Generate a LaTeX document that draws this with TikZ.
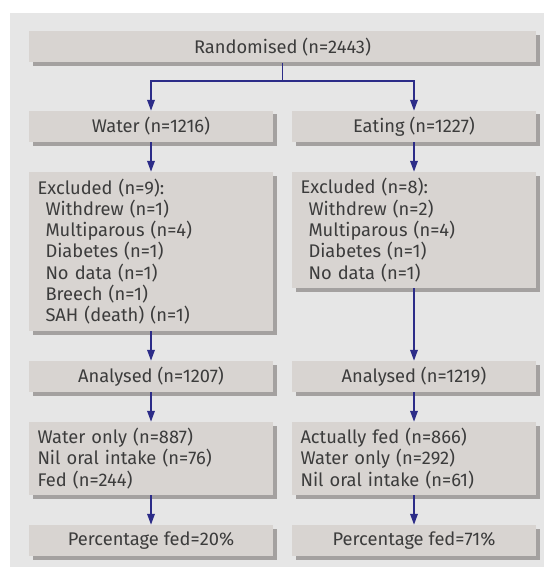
\documentclass[tikz,border=0pt]{standalone}
\usepackage{fontspec}
\setmainfont{Fira Sans}
\usetikzlibrary{shadows,arrows.meta}
\definecolor{bggray}{HTML}{E6E6E6}
\definecolor{boxgray}{HTML}{D8D4D1}
\definecolor{shgray}{HTML}{A4A1A0}
\definecolor{arrblue}{HTML}{2C2C88}
\definecolor{txtgray}{HTML}{3C3C3C}
\tikzset{
  box/.style={rectangle, fill=boxgray, inner sep=0pt, minimum height=31pt,
    text=txtgray, font=\fontsize{18.3}{21.3}\selectfont,
    general shadow={fill=shgray, shadow xshift=3.5pt, shadow yshift=-3.5pt}},
  lbox/.style={box, align=left, text width=227pt, inner xsep=0pt},
  arr/.style={draw=arrblue, line width=1.8pt, -{Triangle[length=11pt,width=7.5pt]}},
  ln/.style={draw=arrblue, line width=1.8pt}
}
\newcommand{\ind}{\hspace*{8pt}}
\begin{document}
\begin{tikzpicture}[x=1pt,y=-1pt]
\useasboundingbox (0,0) rectangle (544,567);
\fill[bggray] (10,13) rectangle (544,567);
\node[box, minimum width=507pt] (rand) at (282.5,47) {Randomised (n=2443)};
\node[box, minimum width=244pt] (water) at (151,126.5) {Water (n=1216)};
\node[box, minimum width=244pt] (eating) at (414,126.5) {Eating (n=1227)};
\node[lbox, minimum width=244pt, minimum height=159pt] (excl1) at (151,251.5) {Excluded (n=9):\\
\ind Withdrew (n=1)\\
\ind Multiparous (n=4)\\
\ind Diabetes (n=1)\\
\ind No data (n=1)\\
\ind Breech (n=1)\\
\ind SAH (death) (n=1)};
\node[lbox, minimum width=244pt, minimum height=116pt] (excl2) at (414,230) {Excluded (n=8):\\
\ind Withdrew (n=2)\\
\ind Multiparous (n=4)\\
\ind Diabetes (n=1)\\
\ind No data (n=1)};
\node[box, minimum width=244pt] (an1) at (151,376.5) {Analysed (n=1207)};
\node[box, minimum width=244pt] (an2) at (414,376.5) {Analysed (n=1219)};
\node[lbox, minimum width=244pt, minimum height=73pt] (res1) at (151,458.5) {Water only (n=887)\\
Nil oral intake (n=76)\\
Fed (n=244)};
\node[lbox, minimum width=244pt, minimum height=73pt] (res2) at (414,458.5) {Actually fed (n=866)\\
Water only (n=292)\\
Nil oral intake (n=61)};
\node[box, minimum width=244pt] (pct1) at (151,540.5) {Percentage fed=20\%};
\node[box, minimum width=244pt] (pct2) at (414,540.5) {Percentage fed=71\%};
\coordinate (j) at (282.5,81);
\draw[ln] (rand.south) -- (j);
\draw[arr] (j) -| (water.north);
\draw[arr] (j) -| (eating.north);
\draw[arr] (water.south) -- (excl1.north);
\draw[arr] (eating.south) -- (excl2.north);
\draw[arr] (excl1.south) -- (an1.north);
\draw[arr] (excl2.south) -- (an2.north);
\draw[arr] (an1.south) -- (res1.north);
\draw[arr] (an2.south) -- (res2.north);
\draw[arr] (res1.south) -- (pct1.north);
\draw[arr] (res2.south) -- (pct2.north);
\end{tikzpicture}
\end{document}
